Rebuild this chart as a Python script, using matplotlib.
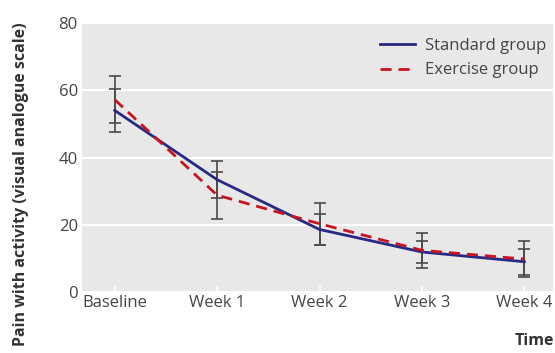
import matplotlib
matplotlib.use("Agg")
import matplotlib.pyplot as plt

categories = ["Baseline", "Week 1", "Week 2", "Week 3", "Week 4"]
standard_mean = [54.0, 33.4, 18.6, 11.9, 9.0]
standard_err = [6.4, 5.5, 4.6, 3.2, 3.8]
exercise_mean = [57.2, 28.8, 20.3, 12.4, 9.8]
exercise_err = [7.0, 7.0, 6.2, 5.2, 5.3]
yticks = [0, 20, 40, 60, 80]

plt.rcParams['font.family'] = ['Open Sans', 'DejaVu Sans']

fig = plt.figure(figsize=(5.55, 3.53), dpi=100)
ax = fig.add_axes([0.1477, 0.1728, 0.8487, 0.762])
ax.set_facecolor('#e8e8e8')
x = list(range(len(categories)))

ax.errorbar(x, standard_mean, yerr=standard_err, fmt='none', ecolor='#4a4a4a',
            elinewidth=1.2, capsize=4, capthick=1.2, zorder=3)
ax.errorbar(x, exercise_mean, yerr=exercise_err, fmt='none', ecolor='#4a4a4a',
            elinewidth=1.2, capsize=4, capthick=1.2, zorder=3)
ax.plot(x, standard_mean, color='#262a84', lw=2.0, label='Standard group', zorder=4)
ax.plot(x, exercise_mean, color='#c8141e', lw=2.0, ls=(0, (4, 2.5)), label='Exercise group', zorder=5)

ax.set_xlim(-0.32, 4.28)
ax.set_ylim(0, 80)
ax.set_yticks(yticks)
ax.set_xticks(x)
ax.set_xticklabels(categories)
ax.grid(axis='y', color='white', lw=1.5)
ax.set_axisbelow(True)
for s in ax.spines.values():
    s.set_visible(False)
ax.tick_params(axis='y', length=0, pad=3, labelsize=12, labelcolor='#444444')
ax.tick_params(axis='x', direction='in', length=4, width=1.2, color='white',
               pad=2, labelsize=12, labelcolor='#444444')

ax.set_ylabel('Pain with activity (visual analogue scale)', fontsize=11.5,
              fontweight='bold', color='#333333')
ax.yaxis.set_label_coords(-0.113, 0.40)
fig.text(0.998, 0.012, 'Time', ha='right', va='bottom', fontsize=11.5,
         fontweight='bold', color='#333333')

leg = ax.legend(loc='upper right', frameon=False, fontsize=12, handlelength=2.1,
                labelspacing=0.5, handletextpad=0.6, bbox_to_anchor=(1.018, 1.0))
for t in leg.get_texts():
    t.set_color('#444444')

fig.savefig('out.png', dpi=100)
